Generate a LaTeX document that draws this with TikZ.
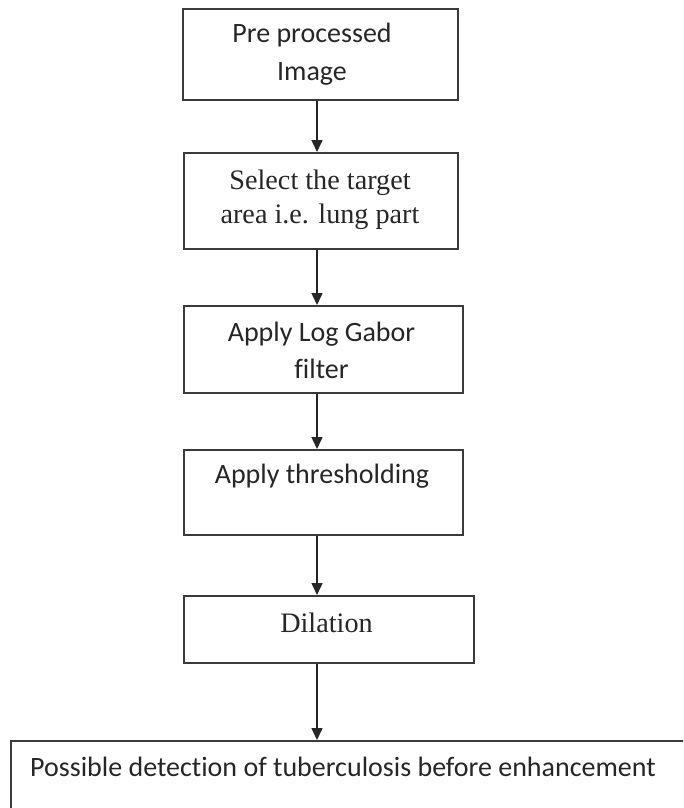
\documentclass[tikz,border=0pt]{standalone}
\usepackage{fontspec}
\setmainfont{Liberation Serif}
\newfontfamily\calib[Ligatures=NoCommon]{Carlito}
\usetikzlibrary{arrows.meta}

\definecolor{edge}{HTML}{3A3A3A}
\definecolor{ink}{HTML}{262626}

\begin{document}
\begin{tikzpicture}[x=1pt,y=-1pt,
  stepbox/.style={draw=edge, line width=1.8pt, inner sep=0pt, anchor=north west},
  sanslabel/.style={font=\calib\fontsize{28}{37}\selectfont, text=ink, align=center, anchor=base, inner sep=0pt},
  seriflabel/.style={font=\fontsize{28.2}{34}\selectfont, text=ink, align=center, anchor=base, inner sep=0pt},
  flow/.style={draw=ink, line width=1.5pt, -{Triangle[length=12pt,width=11pt]}}]
\clip (0,0) rectangle (683,808);

% process boxes
\node[stepbox, minimum width=275pt, minimum height=91pt] (b1) at (182,8) {};
\node[stepbox, minimum width=274pt, minimum height=96pt] (b2) at (183,152) {};
\node[stepbox, minimum width=279pt, minimum height=87pt] (b3) at (183,305) {};
\node[stepbox, minimum width=279pt, minimum height=85pt] (b4) at (183,449) {};
\node[stepbox, minimum width=290pt, minimum height=67pt] (b5) at (183,595) {};
\node[stepbox, minimum width=720pt, minimum height=120pt] (b6) at (10,740) {};

% box labels (base anchor = baseline of the last line)
\node[sanslabel] (t1) at (312,80) {Pre processed\\Image};
\node[seriflabel] (t2) at (320,223) {Select the target\\area i.e. lung part};
\node[sanslabel] (t3) at (321.5,378) {Apply Log Gabor\\filter};
\node[sanslabel] (t4) at (322,483) {Apply thresholding};
\node[seriflabel] (t5) at (326.5,632) {Dilation};
\node[sanslabel, anchor=base west] (t6) at (30,776) {Possible detection of tuberculosis before enhancement};

% flow arrows along one vertical column
\coordinate (col) at (317,0);
\draw[flow] (b1.south -| col) -- (b2.north -| col);
\draw[flow] (b2.south -| col) -- (b3.north -| col);
\draw[flow] (b3.south -| col) -- (b4.north -| col);
\draw[flow] (b4.south -| col) -- (b5.north -| col);
\draw[flow] (b5.south -| col) -- (b6.north -| col);
\end{tikzpicture}
\end{document}
